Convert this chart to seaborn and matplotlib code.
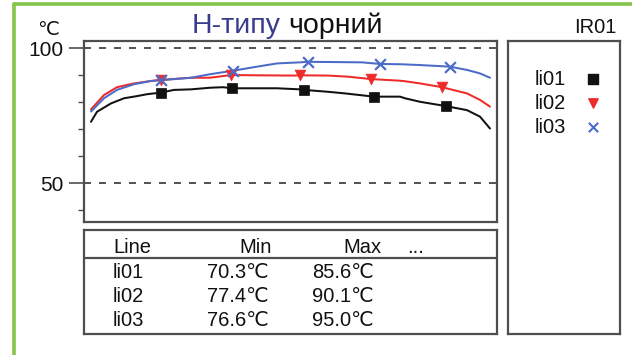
import matplotlib
matplotlib.use("Agg")
import matplotlib.pyplot as plt
import pandas as pd
import seaborn as sns

sns.set_theme(style="white")
plt.rcParams["font.family"] = ["Liberation Sans", "DejaVu Sans"]
plt.rcParams["lines.scale_dashes"] = False

W, H = 632, 355

# --- data -----------------------------------------------------------------
series_names = ["li01", "li02", "li03"]
series_colors = ["#111111", "#ee2a2a", "#4a6cc6"]
series_markers = ["s", "v", "x"]

# position along the measuring line (sample index) and temperature, °C
li01_pos = [1, 7, 21, 34, 47, 57, 71, 84, 101, 120, 133, 142, 167, 187, 210,
            214, 238, 255, 284, 310, 315, 330, 356, 377, 390, 400]
li01_temp = [72.8, 76.5, 79.6, 81.5, 82.3, 83.0, 83.6, 84.6, 84.8, 85.4, 85.6,
             85.2, 85.2, 85.2, 84.8, 84.6, 83.9, 83.3, 82.1, 82.1, 81.5, 80.2,
             78.6, 77.1, 74.7, 70.3]
li01_marks = [6, 11, 15, 18, 22]

li02_pos = [1, 14, 27, 44, 61, 71, 101, 120, 141, 167, 205, 210, 238, 258,
            281, 310, 315, 330, 352, 377, 390, 400]
li02_temp = [77.4, 82.7, 85.6, 87.0, 87.9, 88.3, 89.1, 89.1, 90.1, 90.0, 89.9,
             90.0, 89.9, 89.5, 88.6, 88.0, 87.8, 87.0, 85.6, 83.3, 80.9, 78.4]
li02_marks = [5, 8, 11, 14, 18]

li03_pos = [1, 14, 27, 44, 61, 71, 101, 120, 143, 167, 187, 210, 218, 245,
            272, 290, 310, 330, 360, 377, 390, 400]
li03_temp = [76.6, 81.5, 84.6, 86.7, 87.9, 88.2, 89.1, 90.4, 91.7, 93.2, 94.4,
             94.8, 95.0, 94.9, 94.8, 94.2, 94.1, 93.8, 93.2, 92.0, 90.7, 89.1]
li03_marks = [5, 8, 12, 15, 18]

table_header = ["Line", "Min", "Max", "..."]
table_min = ["70.3℃", "77.4℃", "76.6℃"]
table_max = ["85.6℃", "90.1℃", "95.0℃"]

title_blue = "Н-типу"
title_black = "чорний"
unit_label = "℃"
device_label = "IR01"
ref_levels = [100, 50]
minor_levels = [40, 60, 70, 80, 90]

# --- tables for seaborn ---------------------------------------------------
positions = [li01_pos, li02_pos, li03_pos]
temps = [li01_temp, li02_temp, li03_temp]
marks = [li01_marks, li02_marks, li03_marks]

frames, mark_frames = [], []
for name, p, t, m in zip(series_names, positions, temps, marks):
    df = pd.DataFrame({"pos": p, "temp": t, "line": name})
    frames.append(df)
    mark_frames.append(df.iloc[m])
lines_df = pd.concat(frames, ignore_index=True)
palette = dict(zip(series_names, series_colors))

# --- figure ---------------------------------------------------------------
fig = plt.figure(figsize=(W / 100, H / 100), dpi=100)
fig.patch.set_facecolor("white")


def box(px0, py0, px1, py1):
    return [px0 / W, 1 - py1 / H, (px1 - px0) / W, (py1 - py0) / H]


def fxy(px, py):
    return px / W, 1 - py / H


edge = "#4e4e4e"
frame_green = "#84c44a"

# green frame on the top and left
fig.add_artist(plt.Line2D([13.5 / W, 1.0], [1 - 3.5 / H, 1 - 3.5 / H],
                          color=frame_green, lw=2.6, transform=fig.transFigure))
fig.add_artist(plt.Line2D([13.5 / W, 13.5 / W], [0, 1 - 3.5 / H],
                          color=frame_green, lw=2.6, transform=fig.transFigure))

# main chart
ax = fig.add_axes(box(84, 41, 497, 222))
sns.lineplot(data=lines_df, x="pos", y="temp", hue="line", palette=palette,
             sort=False, estimator=None, legend=False, lw=1.45, ax=ax)
for name, mdf, mk, col in zip(series_names, mark_frames, series_markers,
                              series_colors):
    if mk == "x":
        sns.scatterplot(data=mdf, x="pos", y="temp", color=col, marker="x",
                        s=60, linewidth=1.6, legend=False, ax=ax, zorder=4)
    else:
        sns.scatterplot(data=mdf, x="pos", y="temp", color=col, marker=mk,
                        s=55 if mk == "s" else 60, edgecolor=col, linewidth=0.5,
                        legend=False, ax=ax, zorder=4)

for lvl in ref_levels:
    ax.axhline(lvl, color="#333333", lw=1.2, dashes=(5, 5.8), zorder=1)

ax.set_xlim(-6, 407)
ax.set_ylim(35.7, 102.7)
ax.set_xticks([])
ax.set_yticks(ref_levels)
ax.set_yticks(minor_levels, minor=True)
ax.set_yticklabels([str(v) for v in ref_levels])
ax.tick_params(axis="y", which="major", length=11, width=1.2, color=edge,
               pad=4, labelsize=15, labelcolor="#111111", left=True)
ax.tick_params(axis="y", which="minor", length=4.5, width=1.0, color=edge,
               left=True)
ax.set_xlabel("")
ax.set_ylabel("")
for sp in ax.spines.values():
    sp.set_visible(True)
    sp.set_color(edge)
    sp.set_linewidth(1.6)

# titles
x0, y0 = fxy(281, 33)
fig.text(x0, y0, title_blue, ha="right", va="baseline", fontsize=20.5,
         color="#383c8c")
x1, _ = fxy(288, 33)
fig.text(x1, y0, title_black, ha="left", va="baseline", fontsize=20.5,
         color="#111111")
fig.text(*fxy(617, 33), device_label, ha="right", va="baseline",
         fontsize=14.5, color="#111111")
fig.text(*fxy(37, 35), unit_label, ha="left", va="baseline", fontsize=14,
         color="#111111", family=["DejaVu Sans"])

# legend panel
lax = fig.add_axes(box(508, 41, 620, 334))
lax.set_xlim(508, 620)
lax.set_ylim(334, 41)
lax.set_xticks([])
lax.set_yticks([])
for sp in lax.spines.values():
    sp.set_visible(True)
    sp.set_color(edge)
    sp.set_linewidth(1.6)
leg_y = [79, 103, 127]
for name, mk, col, yy in zip(series_names, series_markers, series_colors, leg_y):
    lax.text(535, yy + 6, name, ha="left", va="baseline", fontsize=14.5,
             color="#111111")
    if mk == "x":
        lax.scatter([593], [yy], marker="x", s=45, color=col, linewidths=1.5)
    else:
        lax.scatter([593], [yy], marker=mk, s=45, color=col)

# statistics table
tax = fig.add_axes(box(84, 230, 497, 334))
tax.set_xlim(84, 497)
tax.set_ylim(334, 230)
tax.set_xticks([])
tax.set_yticks([])
for sp in tax.spines.values():
    sp.set_visible(True)
    sp.set_color(edge)
    sp.set_linewidth(1.6)
tax.axhline(258, color=edge, lw=1.6)
head_x = [113, 239, 343, 407]
for txt, xx in zip(table_header, head_x):
    tax.text(xx, 253, txt, ha="left", va="baseline", fontsize=14.5,
             color="#111111")
row_base = [278, 302, 326]
for name, mn, mx, yb in zip(series_names, table_min, table_max, row_base):
    tax.text(113, yb, name, ha="left", va="baseline", fontsize=14.5,
             color="#111111")
    tax.text(207, yb, mn, ha="left", va="baseline", fontsize=14.5,
             color="#111111")
    tax.text(312, yb, mx, ha="left", va="baseline", fontsize=14.5,
             color="#111111")

fig.savefig("out.png", dpi=100, facecolor="white")
